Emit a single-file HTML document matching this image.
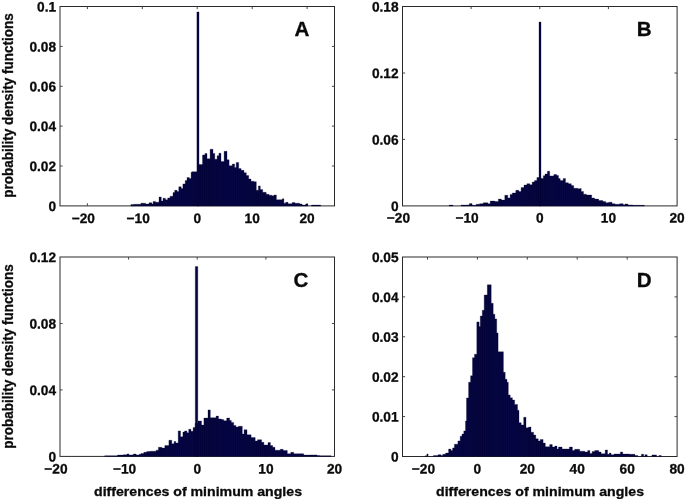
<!DOCTYPE html>
<html><head><meta charset="utf-8"><title>Figure</title>
<style>
html,body{margin:0;padding:0;background:#fff}
svg{display:block}
text{font-family:"Liberation Sans",sans-serif;font-weight:bold;fill:#0a0a0a;stroke:#0a0a0a;stroke-width:0.3px}
.t{font-size:13.7px}
.l{font-size:13.3px}
.L{font-size:20.6px}
.b{fill:url(#g);stroke:#02022c;stroke-width:0.3}
</style></head><body>
<svg width="685" height="499" viewBox="0 0 685 499">
<defs><linearGradient id="g" gradientUnits="userSpaceOnUse" x1="0" y1="0" x2="1.93" y2="0" spreadMethod="repeat"><stop offset="0" stop-color="#030339"/><stop offset="0.5" stop-color="#060645"/><stop offset="1" stop-color="#030339"/></linearGradient></defs>
<rect width="685" height="499" fill="#fff"/>
<rect x="60.0" y="6.5" width="274.50" height="199.40" fill="none" stroke="#2a2a2a" stroke-width="1"/><path d="M87.4 205.9v-2.6M87.4 6.5v2.6M142.3 205.9v-2.6M142.3 6.5v2.6M197.2 205.9v-2.6M197.2 6.5v2.6M252.2 205.9v-2.6M252.2 6.5v2.6M307.1 205.9v-2.6M307.1 6.5v2.6M60.0 166.0h2.6M334.5 166.0h-2.6M60.0 126.1h2.6M334.5 126.1h-2.6M60.0 86.3h2.6M334.5 86.3h-2.6M60.0 46.4h2.6M334.5 46.4h-2.6" stroke="#444" stroke-width="1" fill="none"/><text transform="translate(83.3 222.9) scale(1.0 1) rotate(0.03)" text-anchor="middle" class="t">−20</text><text transform="translate(138.2 222.9) scale(1.0 1) rotate(0.03)" text-anchor="middle" class="t">−10</text><text transform="translate(197.2 222.9) scale(1.0 1) rotate(0.03)" text-anchor="middle" class="t">0</text><text transform="translate(252.2 222.9) scale(1.0 1) rotate(0.03)" text-anchor="middle" class="t">10</text><text transform="translate(307.1 222.9) scale(1.0 1) rotate(0.03)" text-anchor="middle" class="t">20</text><text transform="translate(56.1 210.9) scale(1.0 1) rotate(0.03)" text-anchor="end" class="t">0</text><text transform="translate(56.1 171.0) scale(1.0 1) rotate(0.03)" text-anchor="end" class="t">0.02</text><text transform="translate(56.1 131.1) scale(1.0 1) rotate(0.03)" text-anchor="end" class="t">0.04</text><text transform="translate(56.1 91.3) scale(1.0 1) rotate(0.03)" text-anchor="end" class="t">0.06</text><text transform="translate(56.1 51.4) scale(1.0 1) rotate(0.03)" text-anchor="end" class="t">0.08</text><text transform="translate(56.1 11.5) scale(1.0 1) rotate(0.03)" text-anchor="end" class="t">0.1</text>
<rect x="402.5" y="6.5" width="274.60" height="199.40" fill="none" stroke="#2a2a2a" stroke-width="1"/><path d="M471.1 205.9v-2.6M471.1 6.5v2.6M539.8 205.9v-2.6M539.8 6.5v2.6M608.4 205.9v-2.6M608.4 6.5v2.6M402.5 139.4h2.6M677.1 139.4h-2.6M402.5 73.0h2.6M677.1 73.0h-2.6" stroke="#444" stroke-width="1" fill="none"/><text transform="translate(398.4 222.4) scale(1.0 1) rotate(0.03)" text-anchor="middle" class="t">−20</text><text transform="translate(467.0 222.4) scale(1.0 1) rotate(0.03)" text-anchor="middle" class="t">−10</text><text transform="translate(539.8 222.4) scale(1.0 1) rotate(0.03)" text-anchor="middle" class="t">0</text><text transform="translate(608.4 222.4) scale(1.0 1) rotate(0.03)" text-anchor="middle" class="t">10</text><text transform="translate(677.1 222.4) scale(1.0 1) rotate(0.03)" text-anchor="middle" class="t">20</text><text transform="translate(398.6 210.9) scale(1.0 1) rotate(0.03)" text-anchor="end" class="t">0</text><text transform="translate(398.6 144.4) scale(1.0 1) rotate(0.03)" text-anchor="end" class="t">0.06</text><text transform="translate(398.6 78.0) scale(1.0 1) rotate(0.03)" text-anchor="end" class="t">0.12</text><text transform="translate(398.6 11.5) scale(1.0 1) rotate(0.03)" text-anchor="end" class="t">0.18</text>
<rect x="60.0" y="257.0" width="274.50" height="199.40" fill="none" stroke="#2a2a2a" stroke-width="1"/><path d="M128.6 456.4v-2.6M128.6 257.0v2.6M197.2 456.4v-2.6M197.2 257.0v2.6M265.9 456.4v-2.6M265.9 257.0v2.6M60.0 389.9h2.6M334.5 389.9h-2.6M60.0 323.5h2.6M334.5 323.5h-2.6" stroke="#444" stroke-width="1" fill="none"/><text transform="translate(55.9 473.4) scale(1.0 1) rotate(0.03)" text-anchor="middle" class="t">−20</text><text transform="translate(124.5 473.4) scale(1.0 1) rotate(0.03)" text-anchor="middle" class="t">−10</text><text transform="translate(197.2 473.4) scale(1.0 1) rotate(0.03)" text-anchor="middle" class="t">0</text><text transform="translate(265.9 473.4) scale(1.0 1) rotate(0.03)" text-anchor="middle" class="t">10</text><text transform="translate(334.5 473.4) scale(1.0 1) rotate(0.03)" text-anchor="middle" class="t">20</text><text transform="translate(56.1 461.4) scale(1.0 1) rotate(0.03)" text-anchor="end" class="t">0</text><text transform="translate(56.1 394.9) scale(1.0 1) rotate(0.03)" text-anchor="end" class="t">0.04</text><text transform="translate(56.1 328.5) scale(1.0 1) rotate(0.03)" text-anchor="end" class="t">0.08</text><text transform="translate(56.1 262.0) scale(1.0 1) rotate(0.03)" text-anchor="end" class="t">0.12</text>
<rect x="402.5" y="257.0" width="274.60" height="199.50" fill="none" stroke="#2a2a2a" stroke-width="1"/><path d="M427.5 456.5v-2.6M427.5 257.0v2.6M477.4 456.5v-2.6M477.4 257.0v2.6M527.3 456.5v-2.6M527.3 257.0v2.6M577.2 456.5v-2.6M577.2 257.0v2.6M627.2 456.5v-2.6M627.2 257.0v2.6M402.5 416.6h2.6M677.1 416.6h-2.6M402.5 376.7h2.6M677.1 376.7h-2.6M402.5 336.8h2.6M677.1 336.8h-2.6M402.5 296.9h2.6M677.1 296.9h-2.6" stroke="#444" stroke-width="1" fill="none"/><text transform="translate(423.4 473.5) scale(1.0 1) rotate(0.03)" text-anchor="middle" class="t">−20</text><text transform="translate(477.4 473.5) scale(1.0 1) rotate(0.03)" text-anchor="middle" class="t">0</text><text transform="translate(527.3 473.5) scale(1.0 1) rotate(0.03)" text-anchor="middle" class="t">20</text><text transform="translate(577.2 473.5) scale(1.0 1) rotate(0.03)" text-anchor="middle" class="t">40</text><text transform="translate(627.2 473.5) scale(1.0 1) rotate(0.03)" text-anchor="middle" class="t">60</text><text transform="translate(677.1 473.5) scale(1.0 1) rotate(0.03)" text-anchor="middle" class="t">80</text><text transform="translate(398.6 461.5) scale(1.0 1) rotate(0.03)" text-anchor="end" class="t">0</text><text transform="translate(398.6 421.6) scale(1.0 1) rotate(0.03)" text-anchor="end" class="t">0.01</text><text transform="translate(398.6 381.7) scale(1.0 1) rotate(0.03)" text-anchor="end" class="t">0.02</text><text transform="translate(398.6 341.8) scale(1.0 1) rotate(0.03)" text-anchor="end" class="t">0.03</text><text transform="translate(398.6 301.9) scale(1.0 1) rotate(0.03)" text-anchor="end" class="t">0.04</text><text transform="translate(398.6 262.0) scale(1.0 1) rotate(0.03)" text-anchor="end" class="t">0.05</text>
<path class="b" d="M130.9 206.0V204.6H133.8V204.3H140.9V203.2H145.5V204.0H149.0V202.8H151.9V204.0H153.1V201.4H155.5V202.2H159.0V197.1H161.3V201.1H163.0V198.3H165.4V199.7H167.7V197.9H170.1V196.2H173.0V192.6H174.7V190.3H177.1V191.5H178.8V186.8H181.2V188.6H182.9V183.9H185.2V180.6H187.0V177.5H189.3V178.4H191.1V172.2H192.0V171.7H196.7V171.7H199.0V164.5H202.5V155.1H204.9V153.6H207.0V158.7H210.1V149.3H213.0V153.4H214.8V159.2H217.1V155.7H218.9V153.2H221.0V161.6H224.1V151.3H227.0V159.8H229.1V165.7H232.3V164.1H234.6V167.4H236.2V162.5H238.7V168.6H241.1V170.3H244.0V172.7H246.3V175.6H248.7V179.1H251.0V181.2H253.9V181.7H256.3V190.2H258.4V185.9H260.3V189.6H262.7V192.3H266.2V194.3H269.1V195.2H272.0V195.8H274.0V195.0H276.4V199.7H282.2V198.8H283.9V203.2H285.7V202.3H288.0V203.7H292.1V202.6H295.0V203.2H299.7V204.0H302.1V205.1H305.6V204.0H307.9V206.0ZM311.4 206.0V205.1H320.7V206.0ZM196.9 206.0V11.9H199.0V206.0Z"/>
<path class="b" d="M449.3 206.0V205.1H452.9V206.0ZM461.0 206.0V205.1H469.2V203.7H472.1V205.3H476.2V204.3H479.7V203.7H483.2V202.8H487.9V203.7H490.2V201.1H494.9V201.6H498.4V199.1H501.3V200.0H504.8V195.3H507.8V197.9H510.1V194.4H512.3V193.0H515.8V190.3H518.8V191.5H521.1V187.6H524.0V185.1H526.9V183.7H529.9V184.8H532.2V182.1H534.5V180.6H536.9V177.5H539.0V178.0H541.3V178.6H543.3V175.7H545.0V174.0H547.4V171.3H549.7V175.9H553.8V174.5H556.7V175.5H558.5V178.6H560.2V180.6H563.2V178.6H565.5V182.7H568.4V183.7H571.3V185.6H573.7V188.3H577.8V188.8H580.0V188.6H581.2V191.5H583.5V194.2H586.4V195.0H591.7V198.1H594.6V199.1H598.7V200.5H602.8V201.4H605.7V202.8H608.6V202.3H612.1V203.7H615.0V204.3H619.7V203.7H623.2V204.7H625.0V204.0H627.9V204.9H632.6V205.3H644.3V206.0ZM539.0 206.0V22.1H541.0V206.0Z"/>
<path class="b" d="M104.7 456.5V455.8H117.5V455.1H123.4V454.7H126.9V454.0H128.6V454.9H133.3V454.1H136.2V454.9H139.1V454.3H140.9V453.5H143.8V452.3H146.7V451.6H150.2V451.2H156.1V450.2H158.4V447.3H161.9V448.1H164.8V445.6H168.9V440.3H170.0V440.3H171.8V443.8H174.1V441.5H175.8V443.0H178.2V430.9H180.5V436.8H182.9V432.1H184.6V430.9H186.9V432.7H188.7V429.2H191.0V431.3H193.1V427.4H195.1V423.4H198.0V421.0H201.5V425.1H203.9V418.1H208.0V409.9H210.3V417.7H216.1V416.1H218.5V418.9H221.4V419.6H223.7V420.8H226.7V418.1H229.6V420.4H231.3V422.4H233.7V425.5H236.0V427.1H238.3V426.3H240.0V426.3H242.3V434.1H244.1V429.8H247.0V434.8H251.1V437.6H255.2V440.9H257.5V439.7H261.6V442.3H263.9V445.0H268.0V442.6H270.4V445.6H272.7V447.3H275.0V450.2H280.3V449.3H283.2V450.5H287.3V453.7H290.8V452.3H293.7V453.7H303.7V455.1H310.1V454.9H317.1V455.6H320.0V455.8H331.0V456.5ZM195.3 456.5V266.6H197.8V456.5Z"/>
<path class="b" d="M425.2 456.5V455.8H426.9V454.0H428.1V456.5ZM433.4 456.5V455.6H438.0V454.7H441.0V455.5H442.7V454.3H445.6V453.1H448.6V449.1H450.9V450.5H452.6V447.9H454.4V444.2H457.9V440.9H460.2V436.2H462.0V434.1H463.8V430.9H465.5V421.0H466.5V397.9H468.6V382.2H470.6V375.8H472.5V357.7H474.5V354.2H476.8V321.9H479.1V326.5H480.3V316.0H482.3V310.2H484.2V295.0H487.3V284.8H491.2V303.2H493.2V314.3H494.9V318.9H496.7V332.9H498.1V351.8H503.4V372.3H505.2V379.3H507.0V382.2H508.3V394.9H510.2V397.8H512.4V400.0H514.6V404.4H517.5V410.3H519.0V422.7H521.2V424.9H523.7V417.3H526.0V427.8H528.5V427.1H531.0V432.2H533.6V435.1H535.8V438.8H538.3V440.9H540.2V439.5H543.1V443.1H545.3V446.8H549.7V444.6H552.3V447.1H554.8V446.1H557.0V449.0H558.5V447.1H562.1V449.0H569.4V447.1H572.4V450.5H574.6V449.3H579.7V451.2H584.8V451.9H587.7V450.5H589.9V453.4H592.1V451.4H594.7V450.5H598.8V452.0H601.1V453.7H605.2V450.0H607.5V454.3H609.3V453.1H611.0V454.7H614.0V454.0H620.4V452.0H622.7V454.1H629.7V454.3H635.0V455.5H637.9V456.5ZM641.4 456.5V454.3H643.7V456.5ZM644.9 456.5V454.7H647.2V456.5ZM651.9 456.5V454.9H656.6V456.5ZM658.9 456.5V455.5H661.3V456.5Z"/>
<text x="302.0" y="36.0" text-anchor="middle" class="L">A</text>
<text x="644.3" y="36.0" text-anchor="middle" class="L">B</text>
<text x="300.9" y="286.7" text-anchor="middle" class="L">C</text>
<text x="644.3" y="286.8" text-anchor="middle" class="L">D</text>
<text x="94" y="495.8" textLength="208" lengthAdjust="spacingAndGlyphs" class="l">differences of minimum angles</text>
<text x="436" y="495.8" textLength="208" lengthAdjust="spacingAndGlyphs" class="l">differences of minimum angles</text>
<text transform="translate(12.9 105.4) rotate(-90)" text-anchor="middle" textLength="184.5" lengthAdjust="spacingAndGlyphs" class="l" style="font-size:14px">probability density functions</text>
<text transform="translate(12.9 356.4) rotate(-90)" text-anchor="middle" textLength="184.5" lengthAdjust="spacingAndGlyphs" class="l" style="font-size:14px">probability density functions</text>
</svg>
</body></html>
